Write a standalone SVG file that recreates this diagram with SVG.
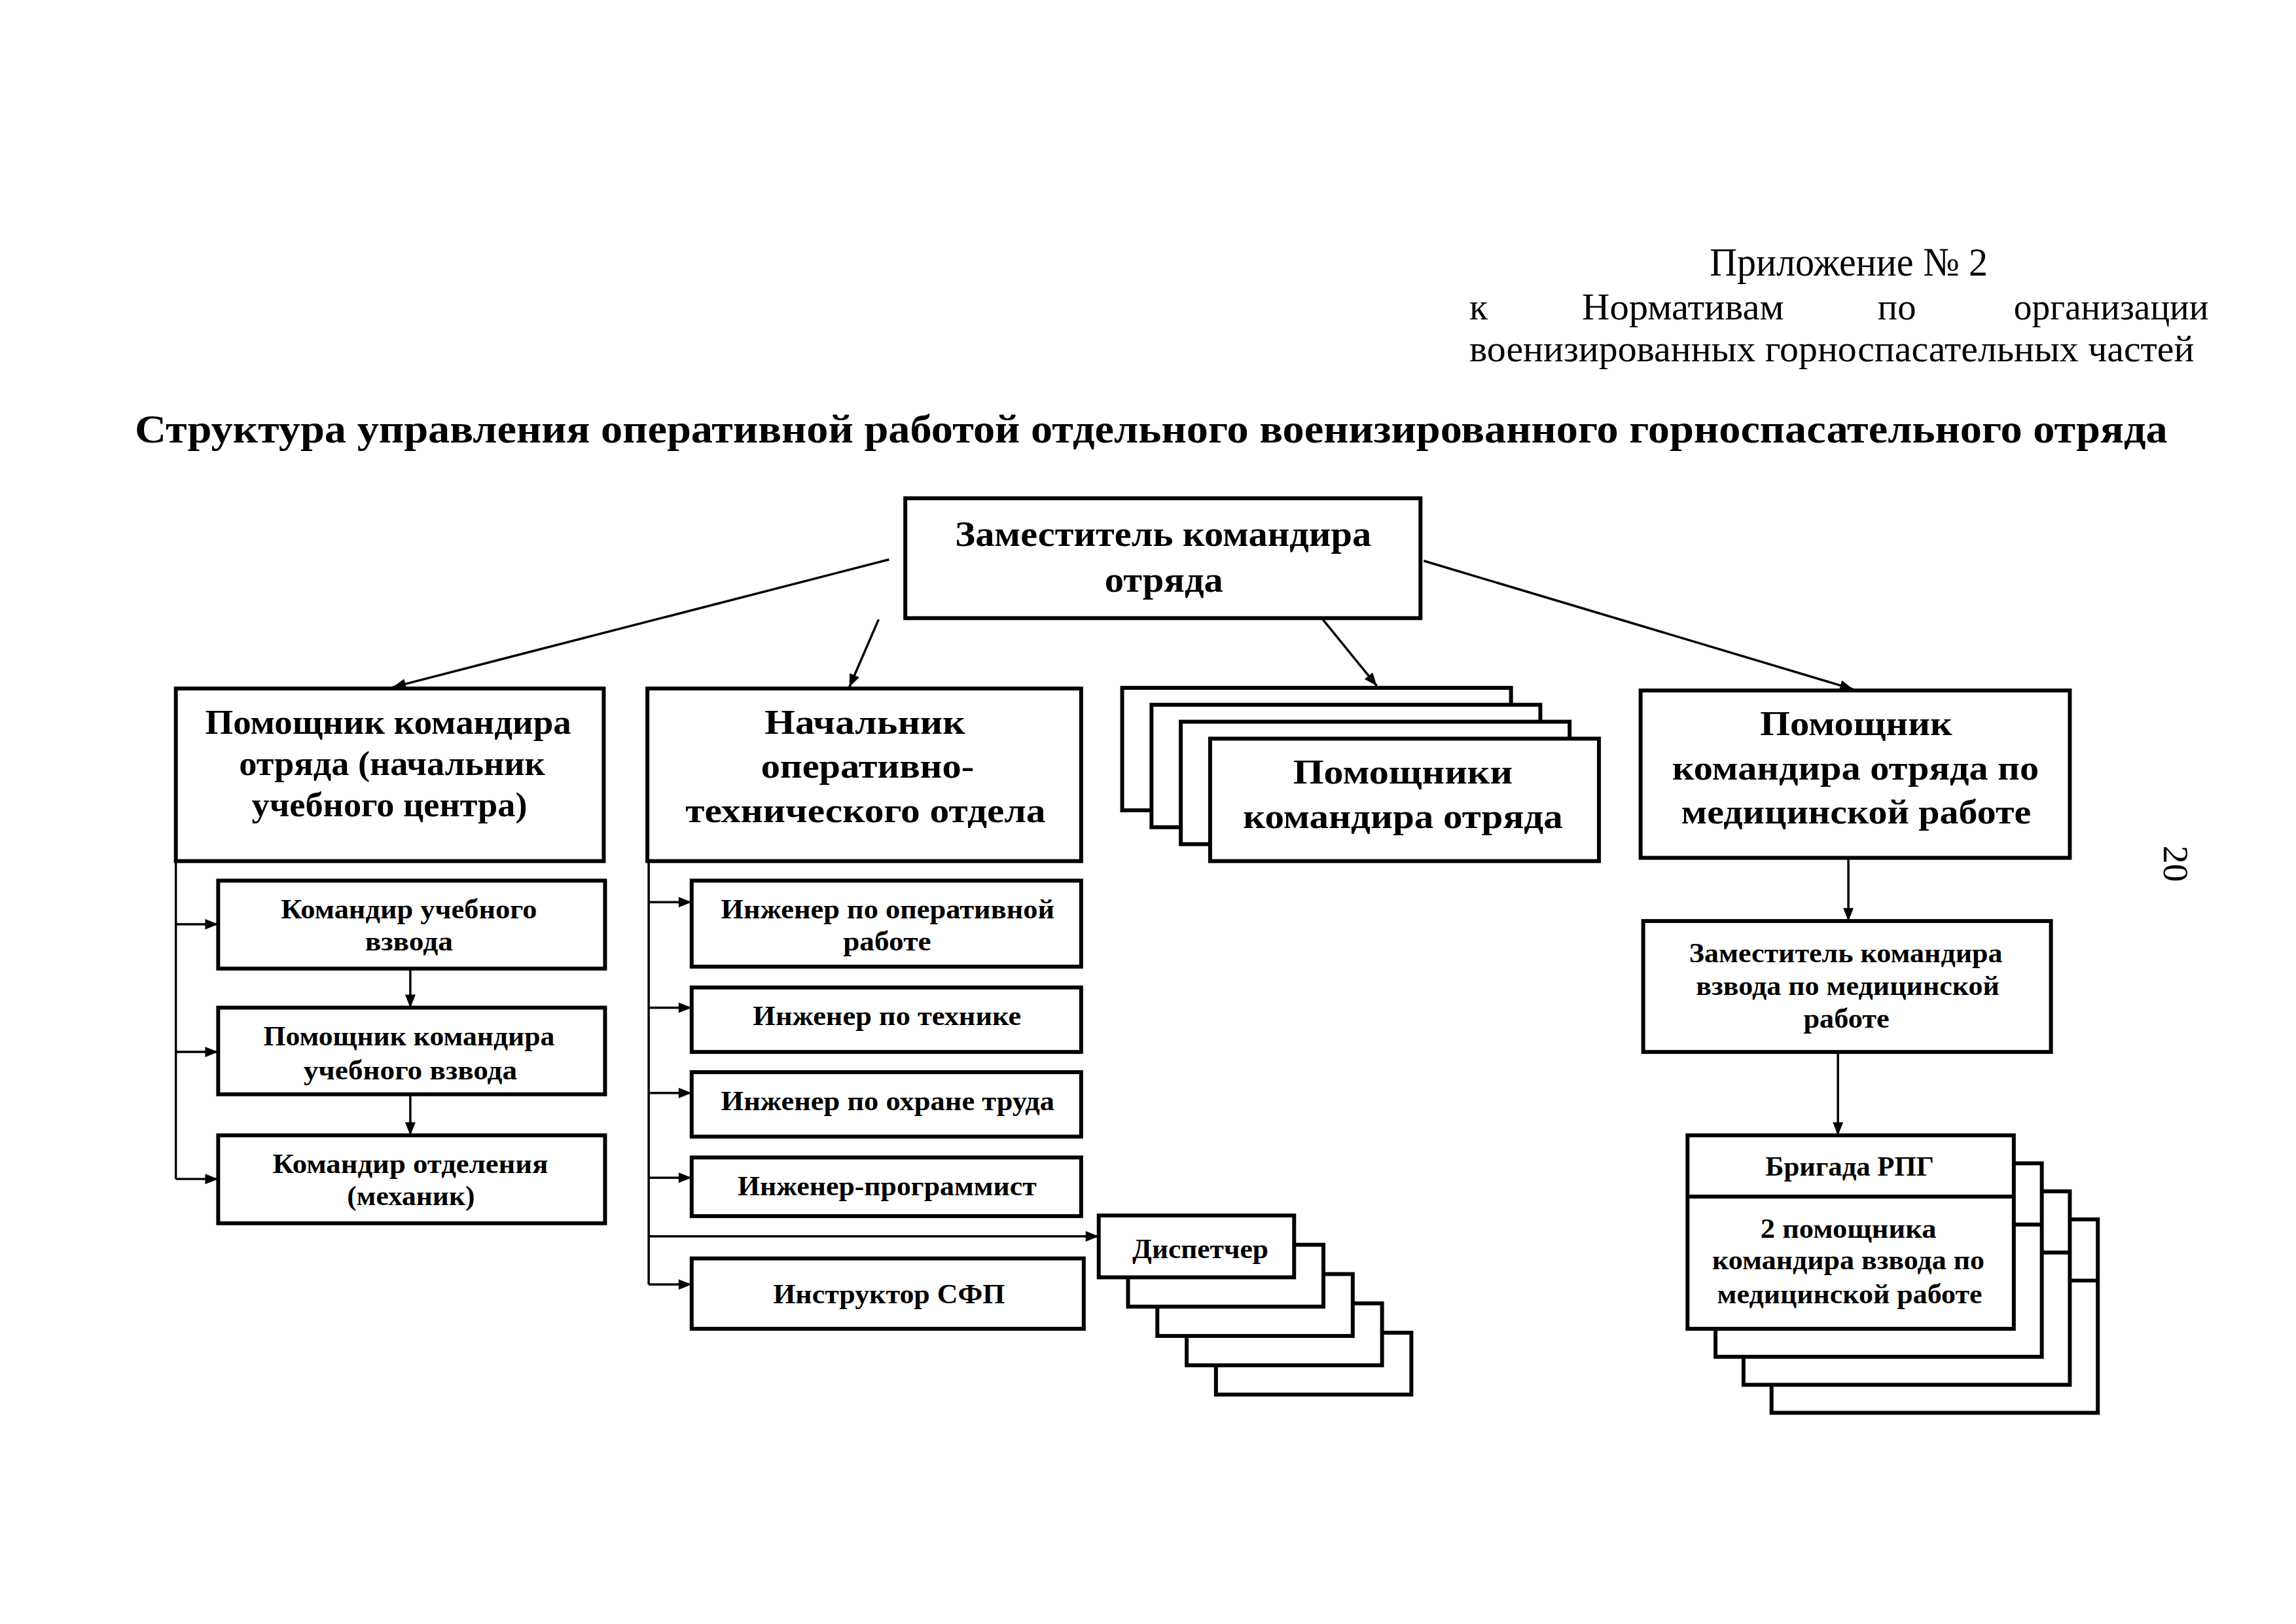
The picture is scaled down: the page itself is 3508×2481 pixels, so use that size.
<svg xmlns="http://www.w3.org/2000/svg" width="3508" height="2481" viewBox="0 0 3508 2481">
<defs>
<style>
.bx{fill:#fff;stroke:#000;stroke-width:6}
.ln{fill:none;stroke:#000;stroke-width:3.5}
.t{font-family:"Liberation Serif","Times New Roman",serif;font-weight:bold;fill:#000;text-anchor:middle}
.h{font-family:"Liberation Serif","Times New Roman",serif;fill:#000}
.b56{font-size:56px}.b52{font-size:52px}.b42{font-size:42px}
</style>
<marker id="arr" viewBox="0 0 20 16" refX="20" refY="8" markerWidth="22" markerHeight="16" markerUnits="userSpaceOnUse" orient="auto"><path d="M0,0 L20,8 L0,16 z" fill="#000"/></marker>
</defs>
<rect width="3508" height="2481" fill="#fff"/>
<g transform="scale(0.9951)">
<g id="header">
<text class="h" x="2625" y="423" font-size="62" textLength="427" lengthAdjust="spacingAndGlyphs">Приложение № 2</text>
<text class="h" x="2256" y="490" font-size="58">к</text>
<text class="h" x="2429" y="490" font-size="58" textLength="310" lengthAdjust="spacingAndGlyphs">Нормативам</text>
<text class="h" x="2883" y="490" font-size="58" textLength="59" lengthAdjust="spacingAndGlyphs">по</text>
<text class="h" x="3092" y="490" font-size="58" textLength="299" lengthAdjust="spacingAndGlyphs">организации</text>
<text class="h" x="2256" y="555" font-size="58" textLength="1113" lengthAdjust="spacingAndGlyphs">военизированных горноспасательных частей</text>
<text class="h" x="207" y="679" font-size="62" font-weight="bold" textLength="3121" lengthAdjust="spacingAndGlyphs">Структура управления оперативной работой отдельного военизированного горноспасательного отряда</text>
<text class="h" x="3322" y="1298" font-size="56" transform="rotate(90 3322 1298)">20</text>
</g>

<g id="connectors">
<line class="ln" x1="1365" y1="859" x2="603" y2="1055" marker-end="url(#arr)"/>
<line class="ln" x1="1349" y1="951" x2="1304" y2="1055" marker-end="url(#arr)"/>
<line class="ln" x1="2031" y1="951" x2="2114" y2="1053" marker-end="url(#arr)"/>
<line class="ln" x1="2186" y1="861" x2="2845" y2="1058" marker-end="url(#arr)"/>
<polyline class="ln" points="270,1322 270,1810"/>
<line class="ln" x1="270" y1="1419" x2="335" y2="1419" marker-end="url(#arr)"/>
<line class="ln" x1="270" y1="1615" x2="335" y2="1615" marker-end="url(#arr)"/>
<line class="ln" x1="270" y1="1810" x2="335" y2="1810" marker-end="url(#arr)"/>
<line class="ln" x1="630" y1="1487" x2="630" y2="1547" marker-end="url(#arr)"/>
<line class="ln" x1="630" y1="1680" x2="630" y2="1743" marker-end="url(#arr)"/>
<polyline class="ln" points="996,1322 996,1972"/>
<line class="ln" x1="996" y1="1385" x2="1062" y2="1385" marker-end="url(#arr)"/>
<line class="ln" x1="996" y1="1547" x2="1062" y2="1547" marker-end="url(#arr)"/>
<line class="ln" x1="996" y1="1678" x2="1062" y2="1678" marker-end="url(#arr)"/>
<line class="ln" x1="996" y1="1808" x2="1062" y2="1808" marker-end="url(#arr)"/>
<line class="ln" x1="996" y1="1898" x2="1687" y2="1898" marker-end="url(#arr)"/>
<line class="ln" x1="996" y1="1972" x2="1062" y2="1972" marker-end="url(#arr)"/>
<line class="ln" x1="2838" y1="1317" x2="2838" y2="1414" marker-end="url(#arr)"/>
<line class="ln" x1="2822" y1="1615" x2="2822" y2="1743" marker-end="url(#arr)"/>
</g>

<g id="n-deputy">
<rect class="bx" x="1390" y="765" width="791" height="184"/>
<text class="t b56" x="1786" y="838" textLength="639" lengthAdjust="spacingAndGlyphs">Заместитель командира</text>
<text class="t b56" x="1787" y="908" textLength="182" lengthAdjust="spacingAndGlyphs">отряда</text>
</g>

<g id="n-training-head">
<rect class="bx" x="270" y="1057" width="657" height="265"/>
<text class="t b52" x="596" y="1127" textLength="562" lengthAdjust="spacingAndGlyphs">Помощник командира</text>
<text class="t b52" x="602" y="1190" textLength="470" lengthAdjust="spacingAndGlyphs">отряда (начальник</text>
<text class="t b52" x="598" y="1253" textLength="423" lengthAdjust="spacingAndGlyphs">учебного центра)</text>
</g>

<g id="n-ops-head">
<rect class="bx" x="994" y="1057" width="666" height="265"/>
<text class="t b52" x="1328" y="1127" textLength="308" lengthAdjust="spacingAndGlyphs">Начальник</text>
<text class="t b52" x="1332" y="1194" textLength="327" lengthAdjust="spacingAndGlyphs">оперативно-</text>
<text class="t b52" x="1329" y="1262" textLength="553" lengthAdjust="spacingAndGlyphs">технического отдела</text>
</g>

<g id="n-assistants">
<rect class="bx" x="1723" y="1056" width="597" height="188"/>
<rect class="bx" x="1768" y="1082" width="597" height="188"/>
<rect class="bx" x="1813" y="1108" width="597" height="188"/>
<rect class="bx" x="1858" y="1134" width="597" height="188"/>
<text class="t b52" x="2154" y="1203" textLength="337" lengthAdjust="spacingAndGlyphs">Помощники</text>
<text class="t b52" x="2154" y="1271" textLength="491" lengthAdjust="spacingAndGlyphs">командира отряда</text>
</g>

<g id="n-medical-head">
<rect class="bx" x="2519" y="1060" width="659" height="257"/>
<text class="t b52" x="2850" y="1129" textLength="295" lengthAdjust="spacingAndGlyphs">Помощник</text>
<text class="t b52" x="2849" y="1197" textLength="563" lengthAdjust="spacingAndGlyphs">командира отряда по</text>
<text class="t b52" x="2850" y="1264" textLength="537" lengthAdjust="spacingAndGlyphs">медицинской работе</text>
</g>

<g id="n-platoon-cmd">
<rect class="bx" x="335" y="1352" width="594" height="135"/>
<text class="t b42" x="628" y="1410" textLength="393" lengthAdjust="spacingAndGlyphs">Командир учебного</text>
<text class="t b42" x="628" y="1459" textLength="135" lengthAdjust="spacingAndGlyphs">взвода</text>
</g>

<g id="n-platoon-asst">
<rect class="bx" x="335" y="1547" width="594" height="133"/>
<text class="t b42" x="628" y="1605" textLength="447" lengthAdjust="spacingAndGlyphs">Помощник командира</text>
<text class="t b42" x="630" y="1657" textLength="328" lengthAdjust="spacingAndGlyphs">учебного взвода</text>
</g>

<g id="n-squad-cmd">
<rect class="bx" x="335" y="1743" width="594" height="135"/>
<text class="t b42" x="630" y="1801" textLength="423" lengthAdjust="spacingAndGlyphs">Командир отделения</text>
<text class="t b42" x="631" y="1850" textLength="196" lengthAdjust="spacingAndGlyphs">(механик)</text>
</g>

<g id="n-eng-ops">
<rect class="bx" x="1062" y="1352" width="598" height="132"/>
<text class="t b42" x="1363" y="1410" textLength="512" lengthAdjust="spacingAndGlyphs">Инженер по оперативной</text>
<text class="t b42" x="1362" y="1459" textLength="135" lengthAdjust="spacingAndGlyphs">работе</text>
</g>

<g id="n-eng-tech">
<rect class="bx" x="1062" y="1516" width="598" height="99"/>
<text class="t b42" x="1362" y="1574" textLength="412" lengthAdjust="spacingAndGlyphs">Инженер по технике</text>
</g>

<g id="n-eng-safety">
<rect class="bx" x="1062" y="1646" width="598" height="99"/>
<text class="t b42" x="1363" y="1704" textLength="512" lengthAdjust="spacingAndGlyphs">Инженер по охране труда</text>
</g>

<g id="n-eng-prog">
<rect class="bx" x="1062" y="1777" width="598" height="90"/>
<text class="t b42" x="1362" y="1835" textLength="459" lengthAdjust="spacingAndGlyphs">Инженер-программист</text>
</g>

<g id="n-instructor">
<rect class="bx" x="1062" y="1932" width="602" height="108"/>
<text class="t b42" x="1365" y="2001" textLength="356" lengthAdjust="spacingAndGlyphs">Инструктор СФП</text>
</g>

<g id="n-dispatcher">
<rect class="bx" x="1867" y="2046" width="300" height="95"/>
<rect class="bx" x="1822" y="2001" width="300" height="95"/>
<rect class="bx" x="1777" y="1956" width="300" height="95"/>
<rect class="bx" x="1732" y="1911" width="300" height="95"/>
<rect class="bx" x="1687" y="1866" width="300" height="95"/>
<text class="t b42" x="1843" y="1931" textLength="209" lengthAdjust="spacingAndGlyphs">Диспетчер</text>
</g>

<g id="n-deputy-platoon-med">
<rect class="bx" x="2523" y="1414" width="626" height="201"/>
<text class="t b42" x="2834" y="1477" textLength="481" lengthAdjust="spacingAndGlyphs">Заместитель командира</text>
<text class="t b42" x="2837" y="1527" textLength="466" lengthAdjust="spacingAndGlyphs">взвода по медицинской</text>
<text class="t b42" x="2835" y="1578" textLength="132" lengthAdjust="spacingAndGlyphs">работе</text>
</g>

<g id="n-brigade">
<rect class="bx" x="2720" y="1872" width="501" height="297"/>
<line class="ln" x1="2720" y1="1966" x2="3221" y2="1966" style="stroke-width:6"/>
<rect class="bx" x="2677" y="1829" width="501" height="297"/>
<line class="ln" x1="2677" y1="1923" x2="3178" y2="1923" style="stroke-width:6"/>
<rect class="bx" x="2634" y="1786" width="501" height="297"/>
<line class="ln" x1="2634" y1="1880" x2="3135" y2="1880" style="stroke-width:6"/>
<rect class="bx" x="2591" y="1743" width="501" height="297"/>
<line class="ln" x1="2591" y1="1837" x2="3092" y2="1837" style="stroke-width:6"/>
<text class="t b42" x="2840" y="1805" textLength="259" lengthAdjust="spacingAndGlyphs">Бригада РПГ</text>
<text class="t b42" x="2838" y="1900" textLength="270" lengthAdjust="spacingAndGlyphs">2 помощника</text>
<text class="t b42" x="2838" y="1949" textLength="418" lengthAdjust="spacingAndGlyphs">командира взвода по</text>
<text class="t b42" x="2840" y="2001" textLength="407" lengthAdjust="spacingAndGlyphs">медицинской работе</text>
</g>
</g>
</svg>
